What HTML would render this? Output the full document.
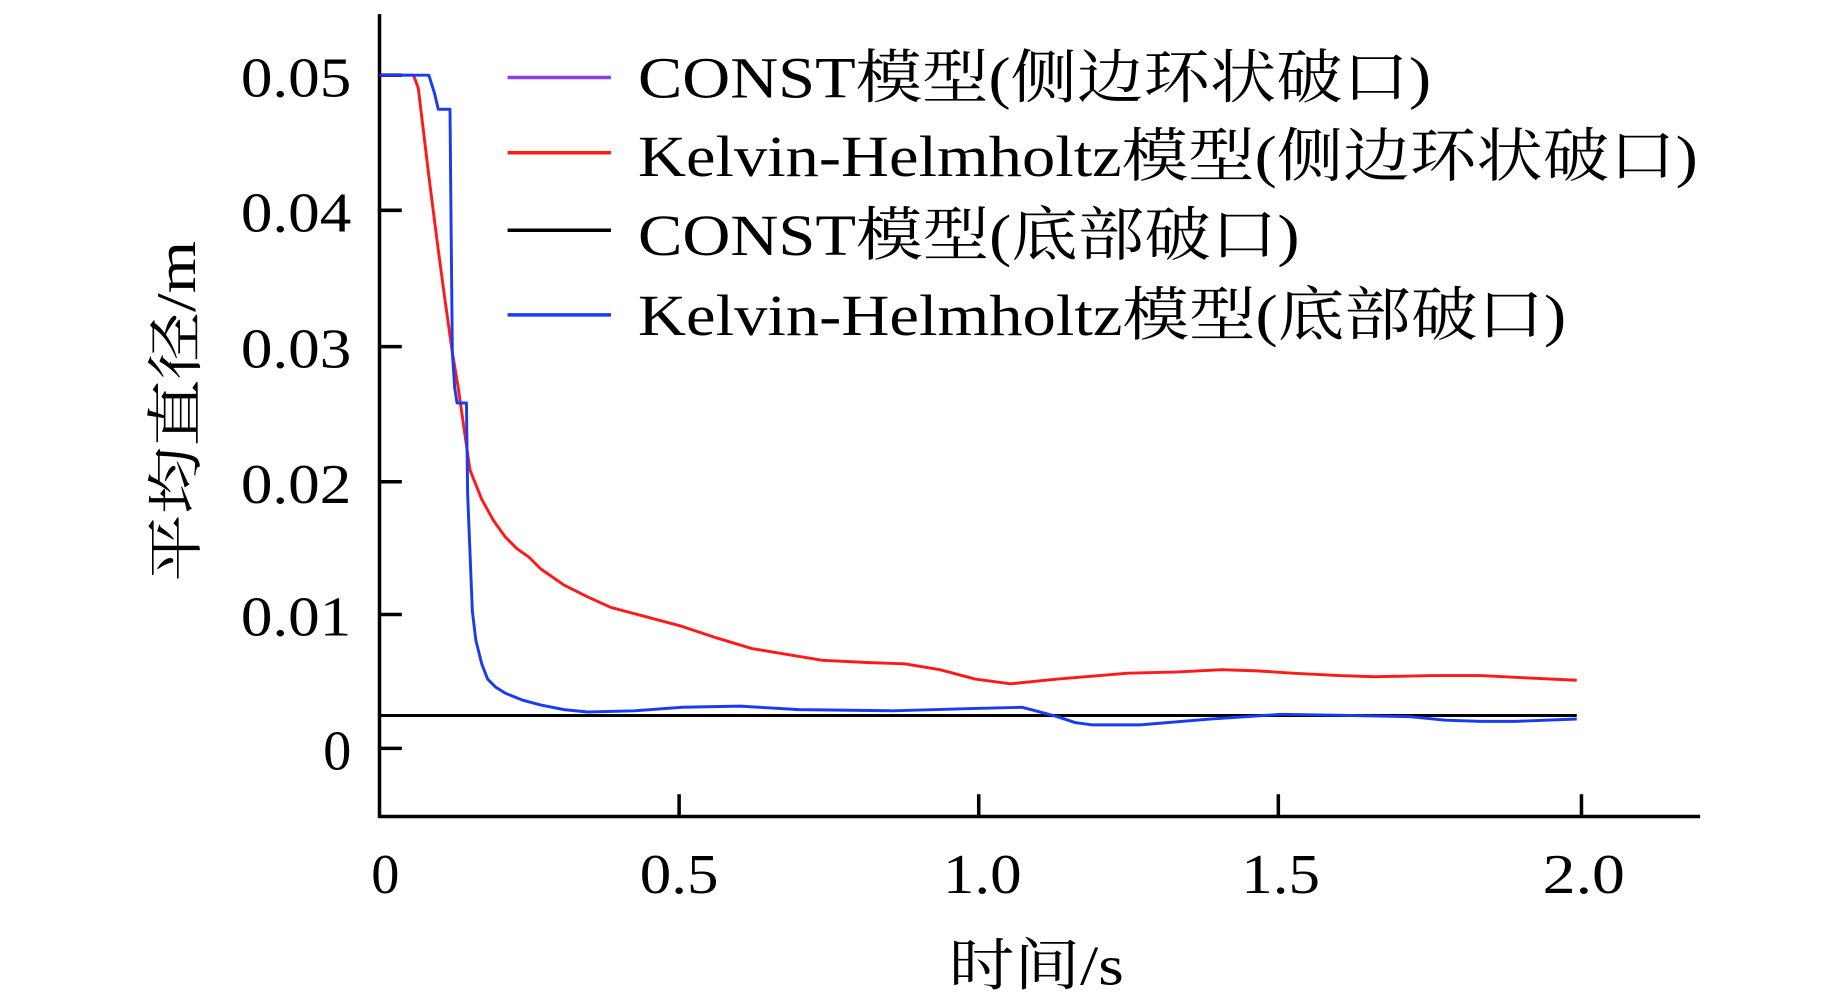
<!DOCTYPE html>
<html><head><meta charset="utf-8"><style>html,body{margin:0;padding:0;background:#fff;overflow:hidden}svg{display:block}</style></head>
<body>
<svg width="1843" height="999" viewBox="0 0 1568.6 850.3" preserveAspectRatio="none" xmlns="http://www.w3.org/2000/svg" font-family="'Liberation Serif','Noto Serif CJK SC',serif">
<g stroke="#000" stroke-width="3" fill="none">
<line x1="323" y1="12" x2="323" y2="696"/>
<line x1="322" y1="695" x2="1447" y2="695"/>
<line x1="323" y1="64" x2="342" y2="64"/>
<line x1="323" y1="179" x2="342" y2="179"/>
<line x1="323" y1="295" x2="342" y2="295"/>
<line x1="323" y1="410" x2="342" y2="410"/>
<line x1="323" y1="523" x2="342" y2="523"/>
<line x1="323" y1="637" x2="342" y2="637"/>
<line x1="578" y1="695" x2="578" y2="676"/>
<line x1="833" y1="695" x2="833" y2="676"/>
<line x1="1088" y1="695" x2="1088" y2="676"/>
<line x1="1346" y1="695" x2="1346" y2="676"/>
</g>
<g font-size="48" fill="#000" text-anchor="end">
<text x="299" y="82" textLength="94" lengthAdjust="spacingAndGlyphs">0.05</text>
<text x="299" y="197" textLength="94" lengthAdjust="spacingAndGlyphs">0.04</text>
<text x="299" y="313" textLength="94" lengthAdjust="spacingAndGlyphs">0.03</text>
<text x="299" y="428" textLength="94" lengthAdjust="spacingAndGlyphs">0.02</text>
<text x="299" y="541" textLength="94" lengthAdjust="spacingAndGlyphs">0.01</text>
<text x="299" y="655" textLength="24" lengthAdjust="spacingAndGlyphs">0</text>
</g>
<g font-size="48" fill="#000" text-anchor="middle">
<text x="328" y="760">0</text>
<text x="578" y="760" textLength="67" lengthAdjust="spacingAndGlyphs">0.5</text>
<text x="836" y="760" textLength="67" lengthAdjust="spacingAndGlyphs">1.0</text>
<text x="1090" y="760" textLength="67" lengthAdjust="spacingAndGlyphs">1.5</text>
<text x="1348" y="760" textLength="70" lengthAdjust="spacingAndGlyphs">2.0</text>
<text x="882" y="838" textLength="149" lengthAdjust="spacingAndGlyphs">时间/s</text>
<text transform="translate(166,350) rotate(-90)" textLength="290" lengthAdjust="spacingAndGlyphs">平均直径/m</text>
</g>
<g font-size="50" fill="#000">
<text x="543" y="83" textLength="675" lengthAdjust="spacingAndGlyphs">CONST模型(侧边环状破口)</text>
<text x="543" y="150" textLength="902" lengthAdjust="spacingAndGlyphs">Kelvin-Helmholtz模型(侧边环状破口)</text>
<text x="543" y="217" textLength="563" lengthAdjust="spacingAndGlyphs">CONST模型(底部破口)</text>
<text x="543" y="285" textLength="790" lengthAdjust="spacingAndGlyphs">Kelvin-Helmholtz模型(底部破口)</text>
</g>
<g stroke-width="3">
<line x1="432" y1="66" x2="520" y2="66" stroke="#8a3cf0"/>
<line x1="432" y1="130" x2="520" y2="130" stroke="#ff1a1a"/>
<line x1="432" y1="196" x2="520" y2="196" stroke="#000"/>
<line x1="432" y1="268" x2="520" y2="268" stroke="#1a3cf0"/>
</g>
<g fill="none" stroke-width="2.5" stroke-linejoin="round">
<line x1="323" y1="609" x2="1342" y2="609" stroke="#000"/>
<polyline stroke="#ff1a1a" points="323,64 352,64 356,75 365,150 372,205 378,250 385,300 390,330 395,365 400,400 410,425 420,443 430,457 440,467 450,474 460,484 470,491 480,498 500,508 520,517 550,525 580,533 610,543 640,552 670,557 700,562 740,564 770,565 800,570 830,578 860,582 900,578 960,573 1000,572 1040,570 1070,571 1100,573 1140,575 1170,576 1220,575 1260,575 1300,577 1342,579"/>
<polyline stroke="#1a3cf0" points="323,64 365,64 370,80 373,93 383,93 384,200 385,300 387,330 389,343 397,343 398,420 400,470 402,520 405,545 410,565 415,578 422,585 430,590 445,596 460,600 480,604 500,606 540,605 580,602 630,601 680,604 760,605 830,603 870,602 885,606 900,610 915,615 930,617 970,617 1030,612 1090,608 1150,609 1200,610 1230,613 1260,614 1290,614 1342,612"/>
</g>
</svg>
</body></html>
